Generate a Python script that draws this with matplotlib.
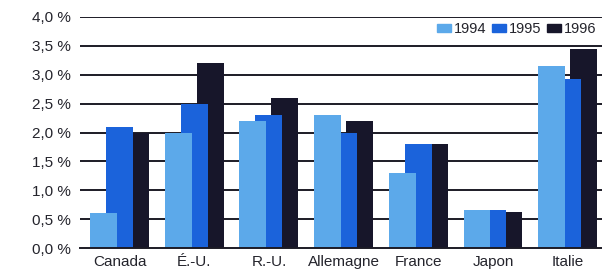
import numpy as np
import matplotlib
matplotlib.use('Agg')
import matplotlib.pyplot as plt
from matplotlib.patches import Patch

plt.rcParams['font.family'] = ['Liberation Sans', 'DejaVu Sans']

pays = ['Canada', 'É.-U.', 'R.-U.', 'Allemagne', 'France', 'Japon', 'Italie']
annees = ['1994', '1995', '1996']
v1994 = [0.6, 2.0, 2.2, 2.3, 1.3, 0.65, 3.15]
v1995 = [2.1, 2.5, 2.3, 2.0, 1.8, 0.65, 2.93]
v1996 = [2.0, 3.2, 2.6, 2.2, 1.8, 0.63, 3.44]
yticks = [0.0, 0.5, 1.0, 1.5, 2.0, 2.5, 3.0, 3.5, 4.0]

couleurs = ['#5ca9ea', '#1b63db', '#17162a']
gris = '#24242c'

fig = plt.figure(figsize=(6.02, 2.74), dpi=100)
ax = fig.add_axes([80 / 602, 26 / 274, 1 - 80 / 602, 231 / 274])

x = np.arange(len(pays))
w = 0.36
d = 0.214
# ordre de dessin : 1996 derriere, 1994 devant
ax.bar(x + d, v1996, w, color=couleurs[2], zorder=2, linewidth=0)
ax.bar(x, v1995, w, color=couleurs[1], zorder=3, linewidth=0)
ax.bar(x - d, v1994, w, color=couleurs[0], zorder=4, linewidth=0)

ax.set_xlim(-0.529, 6.46)
ax.set_ylim(0, 4.0)
ax.set_yticks(yticks)
ax.set_yticklabels([('%.1f %%' % t).replace('.', ',') for t in yticks])
ax.set_xticks(x)
ax.set_xticklabels(pays)
ax.tick_params(axis='y', length=0, pad=6.5, labelsize=11, labelcolor=gris)
ax.tick_params(axis='x', length=0, pad=5, labelsize=11, labelcolor=gris)

for t in yticks[1:]:
    ax.axhline(t, color='#1c1b26', linewidth=1.4, zorder=1)
for s in ['left', 'top', 'right']:
    ax.spines[s].set_visible(False)
ax.spines['bottom'].set_color('#1c1b26')
ax.spines['bottom'].set_linewidth(1.4)
ax.spines['bottom'].set_zorder(5)

handles = [Patch(color=c, label=a) for c, a in zip(couleurs, annees)]
leg = fig.legend(handles=handles, loc='center right', bbox_to_anchor=(1.0, 1 - 29 / 274),
                 ncol=3, frameon=True, fontsize=10.5, handlelength=1.0, handleheight=0.45,
                 handletextpad=0.15, columnspacing=0.4, borderpad=0.2, borderaxespad=0.2)
leg.get_frame().set_linewidth(0)
leg.get_frame().set_facecolor('white')
for t in leg.get_texts():
    t.set_color(gris)

fig.savefig('out.png', dpi=100)
